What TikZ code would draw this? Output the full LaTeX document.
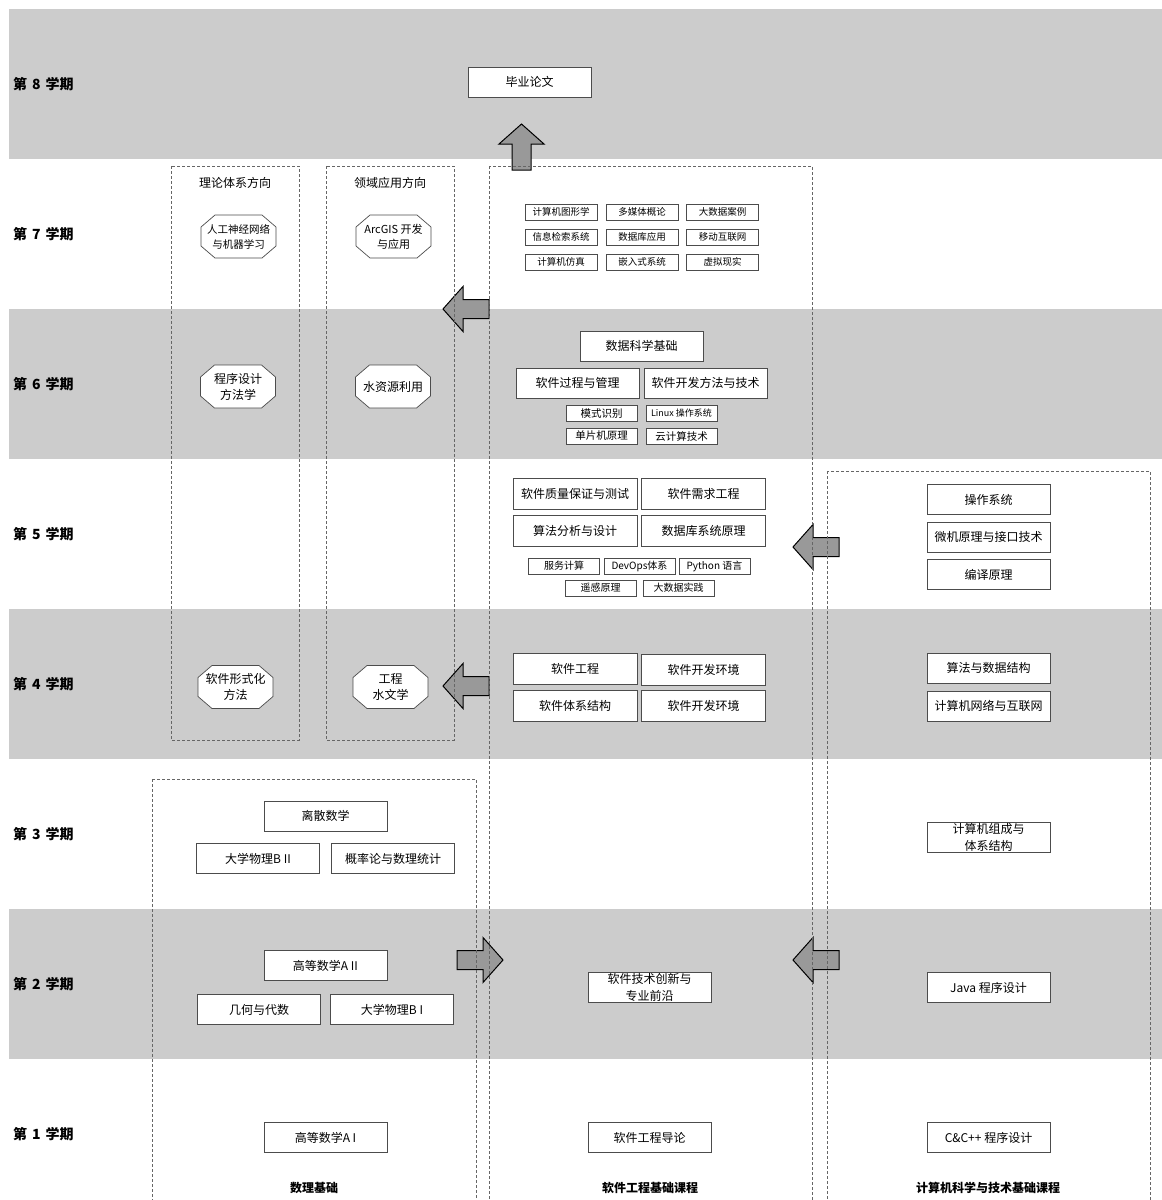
\documentclass[tikz,border=0pt]{standalone}
\usepackage{fontspec}
\setmainfont{Noto Sans CJK SC}

\begin{document}
\begin{tikzpicture}[x=1pt,y=-1pt,
  band/.style={fill=black!20},
  sem/.style={anchor=west,inner sep=0pt,font=\fontsize{14}{16}\selectfont\bfseries},
  lane/.style={draw=black!60,dash pattern=on 3pt off 2pt,line width=0.6pt},
  box/.style={draw=black!70,fill=white,line width=0.7pt,align=center,
    minimum width=123pt,minimum height=30pt,inner sep=1pt,
    font=\fontsize{12}{17}\selectfont},
  tiny/.style={box,minimum width=71pt,minimum height=16pt,
    font=\fontsize{10}{12}\selectfont},
  oct/.style={align=center,inner sep=0pt,minimum width=76pt,minimum height=44pt,
    font=\fontsize{12}{16}\selectfont,
    path picture={\draw[black!70,line width=0.7pt,fill=white]
      (path picture bounding box.center) +(-23.5pt,21.5pt) -- +(23.5pt,21.5pt)
      -- +(37.5pt,9.5pt) -- +(37.5pt,-9.5pt) -- +(23.5pt,-21.5pt)
      -- +(-23.5pt,-21.5pt) -- +(-37.5pt,-9.5pt) -- +(-37.5pt,9.5pt) -- cycle;}},
  head/.style={font=\fontsize{12}{14}\selectfont},
  foot/.style={font=\fontsize{12}{14}\selectfont\bfseries},
  fat/.pic={\draw[black,line width=1pt,fill=black!40] (0,-9.5) -- (26,-9.5)
    -- (26,-22.5) -- (46,0) -- (26,22.5) -- (26,9.5) -- (0,9.5) -- cycle;}]
\useasboundingbox (0,0) rectangle (1162,1200);
\foreach \s in {8,6,4,2}
  \fill[band] (9,{9+(8-\s)*150}) rectangle (1162,{159+(8-\s)*150});
\foreach \s in {1,...,8}
  \node[sem] (S\s) at (13,{84+(8-\s)*150}) {第\hspace{5pt}\s\hspace{5pt}学期};
\pic[rotate=90] at (521.5,170) {fat};
\pic[rotate=180] at (489,309) {fat};
\pic[rotate=180] at (839,547) {fat};
\pic[rotate=180] at (489,686) {fat};
\pic at (457,960) {fat};
\pic[rotate=180] at (839,960) {fat};
\draw[lane] (171,166) rectangle (299,740);
\draw[lane] (326,166) rectangle (454,740);
\draw[lane] (489,166) rectangle (812,1204);
\draw[lane] (827,471) rectangle (1150,1204);
\draw[lane] (152,779) rectangle (476,1204);
\node[head] (TH) at (235,183) {理论体系方向};
\node[head] (AP) at (390,183) {领域应用方向};
\node[oct,font=\fontsize{10.5}{15}\selectfont] (ANN) at (238.5,236.5) {人工神经网络\\与机器学习};
\node[oct,font=\fontsize{11}{15}\selectfont] (GIS) at (393.5,236.5) {ArcGIS 开发\\与应用};
\node[oct] (PDM) at (238,386.5) {程序设计\\方法学};
\node[oct] (WR) at (393,386.5) {水资源利用};
\node[oct] (SFM) at (235.5,687) {软件形式化\\方法};
\node[oct] (EH) at (390.5,687) {工程\\水文学};
\node[box] (BT) at (529.5,82) {毕业论文};
\node[tiny,minimum width=72pt,font=\fontsize{9.5}{11}\selectfont] (CG) at (561,212) {计算机图形学};
\node[tiny,minimum width=72pt,font=\fontsize{9.5}{11}\selectfont] (MM) at (642,212) {多媒体概论};
\node[tiny,minimum width=72pt,font=\fontsize{9.5}{11}\selectfont] (BC) at (722.5,212) {大数据案例};
\node[tiny,minimum width=72pt,font=\fontsize{9.5}{11}\selectfont] (IR) at (561,237) {信息检索系统};
\node[tiny,minimum width=72pt,font=\fontsize{9.5}{11}\selectfont] (DA) at (642,237) {数据库应用};
\node[tiny,minimum width=72pt,font=\fontsize{9.5}{11}\selectfont] (MI) at (722.5,237) {移动互联网};
\node[tiny,minimum width=72pt,font=\fontsize{9.5}{11}\selectfont] (CS) at (561,262) {计算机仿真};
\node[tiny,minimum width=72pt,font=\fontsize{9.5}{11}\selectfont] (ES) at (642,262) {嵌入式系统};
\node[tiny,minimum width=72pt,font=\fontsize{9.5}{11}\selectfont] (VR) at (722.5,262) {虚拟现实};
\node[box] (DS) at (641.5,346) {数据科学基础};
\node[box] (PM) at (577.5,383) {软件过程与管理};
\node[box] (DM) at (705.5,383) {软件开发方法与技术};
\node[tiny,font=\fontsize{10.5}{12}\selectfont] (PR) at (601.5,413.5) {模式识别};
\node[tiny,font=\fontsize{9}{11}\selectfont] (LX) at (681.5,413.5) {Linux 操作系统};
\node[tiny,font=\fontsize{10.5}{12}\selectfont] (MC) at (601.5,436) {单片机原理};
\node[tiny,font=\fontsize{10.5}{12}\selectfont] (CC) at (681.5,436) {云计算技术};
\node[box,minimum width=124pt,minimum height=31pt] (QA) at (575,493.5) {软件质量保证与测试};
\node[box,minimum width=124pt,minimum height=31pt] (RE) at (703.5,493.5) {软件需求工程};
\node[box,minimum width=124pt,minimum height=31pt] (AD) at (575,531) {算法分析与设计};
\node[box,minimum width=124pt,minimum height=31pt] (DB) at (703.5,531) {数据库系统原理};
\node[tiny] (SC) at (564,566) {服务计算};
\node[tiny] (DO) at (639.5,566) {DevOps体系};
\node[tiny] (PY) at (714.5,566) {Python 语言};
\node[tiny] (RS) at (600.5,588) {遥感原理};
\node[tiny] (BP) at (678.5,588) {大数据实践};
\node[box,minimum width=124pt,minimum height=31pt] (SE) at (575,669) {软件工程};
\node[box,minimum width=124pt,minimum height=31pt] (EV) at (703.5,670) {软件开发环境};
\node[box,minimum width=124pt,minimum height=31pt] (SA) at (575,705.5) {软件体系结构};
\node[box,minimum width=124pt,minimum height=31pt] (EW) at (703.5,705.5) {软件开发环境};
\node[box] (IN) at (649.5,987.5) {软件技术创新与\\专业前沿};
\node[box] (IT) at (649.5,1137.5) {软件工程导论};
\node[box] (OS) at (988.5,499.5) {操作系统};
\node[box] (MP) at (988.5,537) {微机原理与接口技术};
\node[box] (CP) at (988.5,574.5) {编译原理};
\node[box] (AL) at (988.5,668) {算法与数据结构};
\node[box] (NW) at (988.5,706) {计算机网络与互联网};
\node[box] (CO) at (988.5,837.5) {计算机组成与\\体系结构};
\node[box] (JV) at (988.5,987.5) {Java 程序设计};
\node[box] (CX) at (988.5,1137.5) {C\&C++ 程序设计};
\node[box] (DI) at (325.5,816) {离散数学};
\node[box] (P2) at (258,858.5) {大学物理B II};
\node[box] (PS) at (393,858.5) {概率论与数理统计};
\node[box] (A2) at (325.5,965.5) {高等数学A II};
\node[box] (GA) at (259,1009.5) {几何与代数};
\node[box] (P1) at (392,1009.5) {大学物理B I};
\node[box] (A1) at (325.5,1137.5) {高等数学A I};
\node[foot] (MF) at (314,1188) {数理基础};
\node[foot] (SF) at (650,1188) {软件工程基础课程};
\node[foot] (CF) at (988,1188) {计算机科学与技术基础课程};
\end{tikzpicture}
\end{document}
